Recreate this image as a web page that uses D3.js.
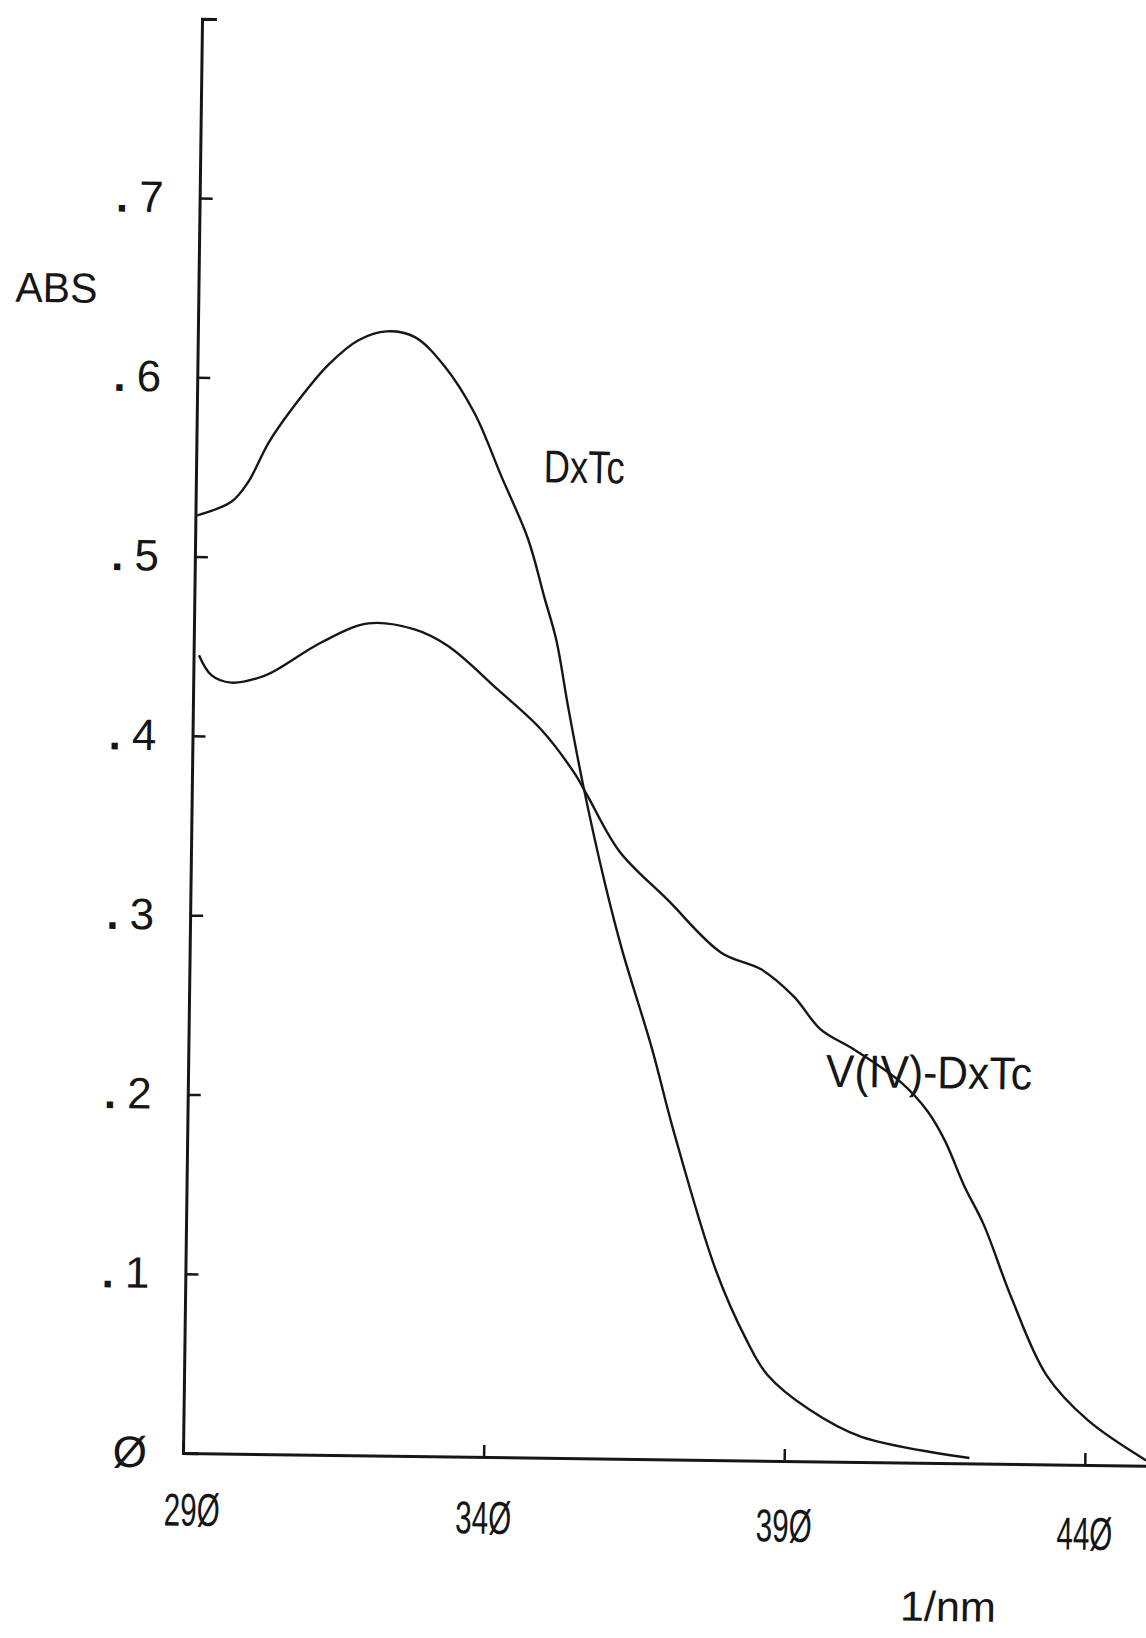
<!DOCTYPE html>
<html>
<head>
<meta charset="utf-8">
<script src="https://cdn.jsdelivr.net/npm/d3@7"></script>
<style>
  html, body { margin: 0; background: #fff; }
  svg { display: block; }
  text { font-family: "Liberation Sans", "DejaVu Sans", Arial, sans-serif; fill: #161616; }
</style>
</head>
<body>
<svg id="chart" width="1146" height="1638"></svg>
<script>
// Absorption spectrum of DxTc (wavelength in nm, absorbance)
const dxtcWavelength = [290.3, 296.0, 298.7, 302.0, 305.8, 311.8, 316.8, 321.4, 326.1, 331.1,
  336.2, 340.8, 345.4, 348.2, 350.3, 352.4, 355.1, 358.9, 361.9, 367.1, 370.9, 378.2, 383.5,
  387.0, 394.0, 402.8, 420.8];
const dxtcAbsorbance = [0.523, 0.531, 0.542, 0.564, 0.583, 0.608, 0.622, 0.627, 0.624, 0.608,
  0.582, 0.547, 0.512, 0.480, 0.456, 0.419, 0.375, 0.321, 0.284, 0.229, 0.183, 0.106, 0.067,
  0.048, 0.029, 0.014, 0.003];

// Absorption spectrum of the V(IV)-DxTc complex
const vdxtcWavelength = [290.9, 293.0, 296.3, 301.8, 304.6, 311.2, 319.0, 326.7, 332.3, 340.7,
  348.0, 353.6, 355.9, 361.2, 369.4, 378.4, 385.1, 390.6, 395.1, 400.7, 408.6, 413.1, 416.0,
  419.3, 422.7, 427.4, 433.4, 440.4, 450.2];
const vdxtcAbsorbance = [0.445, 0.434, 0.430, 0.434, 0.439, 0.453, 0.464, 0.461, 0.452, 0.428,
  0.406, 0.382, 0.369, 0.339, 0.312, 0.283, 0.274, 0.259, 0.241, 0.230, 0.212, 0.196, 0.180,
  0.155, 0.133, 0.093, 0.050, 0.025, 0.003];

const xTickValues = [290, 340, 390, 440];
const yTickValues = [0, 0.1, 0.2, 0.3, 0.4, 0.5, 0.6, 0.7];
const seriesNames = ["DxTc", "V(IV)-DxTc"];
const yAxisTitle = "ABS";
const xAxisTitle = "1/nm";

const svg = d3.select("#chart");
const ink = "#161616";

// The plotter sheet sits slightly turned; everything is drawn in the turned frame
const plot = svg.append("g").attr("transform", "translate(183,1453) rotate(0.76)");

const x = d3.scaleLinear().domain([290, 452]).range([0, 974]);
const y = d3.scaleLinear().domain([0, 0.8]).range([0, -1434.4]);

// plotter style zero: slashed
const slashZero = s => s.replace(/0/g, "\u00D8");

// x axis: ticks pointing up into the plot
const xAxis = d3.axisBottom(x)
  .tickValues(xTickValues)
  .tickSizeInner(-12)
  .tickSizeOuter(0)
  .tickPadding(40)
  .tickFormat(d => slashZero(String(d)));

const gx = plot.append("g").attr("font-family", null).call(xAxis);
gx.attr("font-family", null).attr("font-size", null);
gx.select(".domain").attr("stroke", ink).attr("stroke-width", 3);
gx.selectAll(".tick line").attr("stroke", ink).attr("stroke-width", 2.5);
gx.selectAll(".tick text")
  .attr("font-size", 46)
  .attr("fill", ink)
  .attr("dx", (d, i) => i === 0 ? 9 : 0)
  .attr("dy", (d, i) => `${0.71 * 46 + i * 4}px`)
  .attr("textLength", 56)
  .attr("lengthAdjust", "spacingAndGlyphs");

// y axis: ticks pointing right, cap at the top end
const yAxis = d3.axisLeft(y)
  .tickValues(yTickValues)
  .tickSizeInner(-13)
  .tickSizeOuter(-15)
  .tickPadding(36)
  .tickFormat(d => d === 0 ? "\u00D8" : d3.format(".1f")(d).replace(/^0/, ""));

const gy = plot.append("g").call(yAxis);
gy.attr("font-family", null).attr("font-size", null);
gy.select(".domain").attr("stroke", ink).attr("stroke-width", 3);
gy.selectAll(".tick line").attr("stroke", ink).attr("stroke-width", 2.5);
gy.selectAll(".tick text")
  .attr("font-size", 44)
  .attr("fill", ink)
  .each(function () {
    const t = d3.select(this);
    const s = t.text();
    if (s.startsWith(".")) {
      t.text(null);
      t.append("tspan").attr("font-weight", "bold").text(".");
      t.append("tspan").attr("dx", 11).text(s.slice(1));
    }
  });

// spectra
const line = d3.line()
  .x(d => x(d[0]))
  .y(d => y(d[1]))
  .curve(d3.curveCatmullRom.alpha(0.5));

const series = [
  d3.zip(dxtcWavelength, dxtcAbsorbance),
  d3.zip(vdxtcWavelength, vdxtcAbsorbance)
];

plot.selectAll("path.spectrum")
  .data(series)
  .join("path")
  .attr("class", "spectrum")
  .attr("fill", "none")
  .attr("stroke", ink)
  .attr("stroke-width", 2.4)
  .attr("stroke-linejoin", "round")
  .attr("d", line);

// curve labels
plot.append("text")
  .attr("x", x(347.8)).attr("y", y(0.544))
  .attr("font-size", 46)
  .attr("textLength", 81).attr("lengthAdjust", "spacingAndGlyphs")
  .text(seriesNames[0]);

plot.append("text")
  .attr("x", x(396.1)).attr("y", y(0.209))
  .attr("font-size", 46)
  .attr("textLength", 206).attr("lengthAdjust", "spacingAndGlyphs")
  .text(seriesNames[1]);

// axis titles
plot.append("text")
  .attr("x", -183).attr("y", -1149)
  .attr("font-size", 42)
  .attr("textLength", 82).attr("lengthAdjust", "spacingAndGlyphs")
  .text(yAxisTitle);

plot.append("text")
  .attr("x", 719).attr("y", 158)
  .attr("font-size", 42)
  .attr("textLength", 96).attr("lengthAdjust", "spacingAndGlyphs")
  .text(xAxisTitle);
</script>
</body>
</html>
